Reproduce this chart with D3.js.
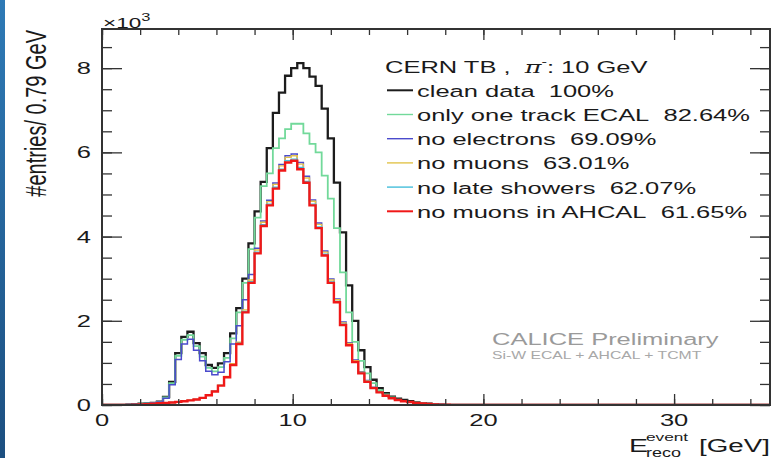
<!DOCTYPE html>
<html>
<head>
<meta charset="utf-8">
<script src="https://cdn.jsdelivr.net/npm/d3@7"></script>
<style>
  body { margin: 0; background: #fff; }
  text { font-family: "Liberation Sans", Arial, Helvetica, sans-serif; fill: #1a1a1a; }
</style>
</head>
<body>
<svg id="chart"></svg>
<script>
// histogram bin width in GeV, counts in units of 10^3 entries
const binWidth = 0.32;

const cleanData = [0,0,0,0,0.01,0.02,0.03,0.04,0.05,0.08,
  0.19,0.55,1.23,1.62,1.74,1.47,1.23,0.95,0.88,0.99,
  1.23,1.7,2.3,3.0,3.84,4.6,5.3,6.1,6.94,7.42,
  7.82,8.0,8.12,8.0,7.8,7.58,7.04,6.33,5.28,4.1,
  2.84,2.0,1.3,0.9,0.6,0.4,0.28,0.2,0.15,0.12,
  0.09,0.06,0.045,0.03,0.02,0.01,0.005,0];

const oneTrackEcal = [0,0,0,0,0.01,0.02,0.03,0.04,0.05,0.075,
  0.18,0.52,1.17,1.55,1.66,1.4,1.15,0.88,0.8,0.9,
  1.12,1.58,2.2,2.9,3.7,4.45,5.2,5.5,6.1,6.33,
  6.55,6.68,6.68,6.45,6.2,6.0,5.45,4.9,4.2,3.15,
  2.2,1.5,1.05,0.75,0.52,0.35,0.25,0.18,0.13,0.1,
  0.075,0.055,0.04,0.025,0.015,0.008,0.004,0];

const noElectrons = [0,0,0,0,0.01,0.015,0.025,0.035,0.045,0.07,
  0.16,0.48,1.08,1.45,1.56,1.3,1.05,0.8,0.72,0.78,
  1.03,1.45,1.88,2.5,3.1,3.72,4.37,4.86,5.27,5.71,
  5.92,5.96,5.76,5.43,4.87,4.32,3.66,2.99,2.52,1.97,
  1.48,1.07,0.79,0.58,0.42,0.315,0.232,0.17,0.127,0.095,
  0.073,0.052,0.037,0.026,0.016,0.01,0.005,0];

const noMuons = [0,0,0,0,0.004,0.008,0.012,0.02,0.03,0.04,
  0.05,0.06,0.076,0.092,0.112,0.133,0.175,0.235,0.33,0.47,
  0.68,0.98,1.49,2.26,2.97,3.68,4.34,4.83,5.24,5.68,
  5.88,5.92,5.72,5.39,4.84,4.29,3.63,2.97,2.5,1.95,
  1.46,1.05,0.78,0.57,0.415,0.31,0.23,0.168,0.125,0.094,
  0.072,0.052,0.036,0.026,0.016,0.01,0.005,0];

const noLateShowers = [0,0,0,0,0.004,0.008,0.012,0.02,0.03,0.04,
  0.05,0.06,0.075,0.09,0.11,0.131,0.172,0.232,0.325,0.465,
  0.67,0.96,1.47,2.22,2.93,3.63,4.28,4.77,5.17,5.6,
  5.8,5.84,5.64,5.31,4.77,4.23,3.58,2.92,2.46,1.92,
  1.43,1.03,0.76,0.56,0.405,0.305,0.225,0.164,0.122,0.092,
  0.071,0.051,0.036,0.025,0.015,0.01,0.005,0];

const noMuonsAhcal = [0,0,0,0,0.004,0.008,0.012,0.02,0.03,0.04,
  0.05,0.06,0.075,0.09,0.11,0.13,0.17,0.23,0.32,0.46,
  0.66,0.95,1.45,2.2,2.9,3.6,4.25,4.74,5.14,5.57,
  5.76,5.8,5.6,5.28,4.74,4.2,3.55,2.9,2.44,1.9,
  1.42,1.02,0.75,0.55,0.4,0.3,0.22,0.16,0.12,0.09,
  0.07,0.05,0.035,0.025,0.015,0.01,0.005,0];

const legendLabels = [
  "clean data  100%",
  "only one track ECAL  82.64%",
  "no electrons  69.09%",
  "no muons  63.01%",
  "no late showers  62.07%",
  "no muons in AHCAL  61.65%"
];
const xTickLabels = [0, 10, 20, 30];
const yTickLabels = [0, 2, 4, 6, 8];

const width = 776, height = 458;
const margin = { top: 29, right: 6, bottom: 53, left: 102 };
const sx = 1.5; // the slide picture is stretched horizontally

const seriesList = [
  { values: cleanData, color: "#1c1c1c", w: 2.3 },
  { values: oneTrackEcal, color: "#72d99a", w: 1.8 },
  { values: noElectrons, color: "#4b4bcc", w: 1.5 },
  { values: noMuons, color: "#e2c44c", w: 1.4 },
  { values: noLateShowers, color: "#45bedb", w: 1.4 },
  { values: noMuonsAhcal, color: "#f01818", w: 2.4 }
];

const svg = d3.select("#chart").attr("width", width).attr("height", height);

// blue edge of the slide
let grad = svg.append("defs").append("linearGradient")
  .attr("id", "edge").attr("x1", 0).attr("x2", 0).attr("y1", 0).attr("y2", 1);
grad.append("stop").attr("offset", "0%").attr("stop-color", "#2e7ab6");
grad.append("stop").attr("offset", "100%").attr("stop-color", "#1c4f80");
svg.append("rect").attr("x", 0).attr("y", 0).attr("width", 5).attr("height", height)
  .attr("fill", "url(#edge)");

let x = d3.scaleLinear().domain([0, 35.03]).range([margin.left, width - margin.right]);
let y = d3.scaleLinear().domain([0, 8.93]).range([height - margin.bottom, margin.top]);

svg.append("clipPath").attr("id", "frame").append("rect")
  .attr("x", x(0)).attr("y", y(8.93)).attr("width", x(35.03) - x(0)).attr("height", y(0) - y(8.93));

// histograms
let line = d3.line().x(d => x(d[0])).y(d => y(d[1])).curve(d3.curveStepAfter);
let plot = svg.append("g").attr("clip-path", "url(#frame)");
seriesList.forEach(s => {
  let pts = s.values.map((v, i) => [i * binWidth, v]);
  pts.push([s.values.length * binWidth, 0]);
  pts.push([35.03, 0]);
  plot.append("path")
    .attr("d", line(pts))
    .attr("fill", "none")
    .attr("stroke", s.color)
    .attr("stroke-width", s.w);
});

// ticks on all four sides
function ticks(g, axis) { g.call(axis); g.select(".domain").remove(); g.selectAll("line").attr("stroke", "#333").attr("stroke-width", 1.3); }
let xMinor = d3.range(0, 35.01, 2);
let yMinor = d3.range(0, 8.93, 0.5);
svg.append("g").attr("transform", `translate(0,${y(0)})`)
  .call(ticks, d3.axisBottom(x).tickValues(xMinor).tickSize(-6).tickFormat(""));
svg.append("g").attr("transform", `translate(0,${y(0)})`)
  .call(ticks, d3.axisBottom(x).tickValues(xTickLabels).tickSize(-11).tickFormat(""));
svg.append("g").attr("transform", `translate(0,${y(8.93)})`)
  .call(ticks, d3.axisTop(x).tickValues(xMinor).tickSize(-6).tickFormat(""));
svg.append("g").attr("transform", `translate(0,${y(8.93)})`)
  .call(ticks, d3.axisTop(x).tickValues(xTickLabels).tickSize(-11).tickFormat(""));
svg.append("g").attr("transform", `translate(${x(0)},0)`)
  .call(ticks, d3.axisLeft(y).tickValues(yMinor).tickSize(-10).tickFormat(""));
svg.append("g").attr("transform", `translate(${x(0)},0)`)
  .call(ticks, d3.axisLeft(y).tickValues(yTickLabels).tickSize(-20).tickFormat(""));
svg.append("g").attr("transform", `translate(${x(35.03)},0)`)
  .call(ticks, d3.axisRight(y).tickValues(yMinor).tickSize(-10).tickFormat(""));
svg.append("g").attr("transform", `translate(${x(35.03)},0)`)
  .call(ticks, d3.axisRight(y).tickValues(yTickLabels).tickSize(-20).tickFormat(""));

svg.append("rect")
  .attr("x", x(0)).attr("y", y(8.93)).attr("width", x(35.03) - x(0)).attr("height", y(0) - y(8.93))
  .attr("fill", "none").attr("stroke", "#333").attr("stroke-width", 2);

// stretched text helper
function label(px, py, str, size, anchor, color) {
  return svg.append("text")
    .attr("transform", `translate(${px},${py}) scale(${sx},1)`)
    .attr("font-size", size)
    .attr("text-anchor", anchor || "start")
    .style("fill", color || null)
    .text(str);
}

xTickLabels.forEach(v => label(x(v), 425.5, v, 17, "middle"));
yTickLabels.forEach(v => label(91, y(v) + 6, v, 17, "end"));

let exp = label(103, 28, "\u00d710", 15, "start");
exp.append("tspan").attr("font-size", 11).attr("dy", -7).text("3");

svg.append("text")
  .attr("transform", "translate(46,30) rotate(-90) scale(1,1.45)")
  .attr("font-size", 20)
  .attr("text-anchor", "end")
  .text("#entries/ 0.79 GeV");

label(629, 452, "E", 19, "start");
label(646, 440.5, "event", 11.5, "start");
label(646, 457, "reco", 12, "start");
label(770, 452, "[GeV]", 18.5, "end");

// legend
let title = label(385, 73, "CERN TB ,\u00a0 ", 17, "start");
title.append("tspan").style("font-family", "'DejaVu Serif', serif").style("font-style", "italic").text("\u03c0");
title.append("tspan").attr("font-size", 11).attr("dy", -8).text("-");
title.append("tspan").attr("dy", 8).text(": 10 GeV");

legendLabels.forEach((t, i) => {
  let by = 96.8 + i * 24.2;
  svg.append("line")
    .attr("x1", 387).attr("x2", 413).attr("y1", by - 6.5).attr("y2", by - 6.5)
    .attr("stroke", seriesList[i].color).attr("stroke-width", i === 0 || i === 5 ? 2 : 1.4);
  label(417, by, t.replace(/  /g, "\u00a0 "), 17, "start");
});

label(492, 345, "CALICE Preliminary", 17, "start", "#9a9a9a");
label(492, 359, "Si-W ECAL + AHCAL + TCMT", 10.5, "start", "#a8a8a8");
</script>
</body>
</html>
